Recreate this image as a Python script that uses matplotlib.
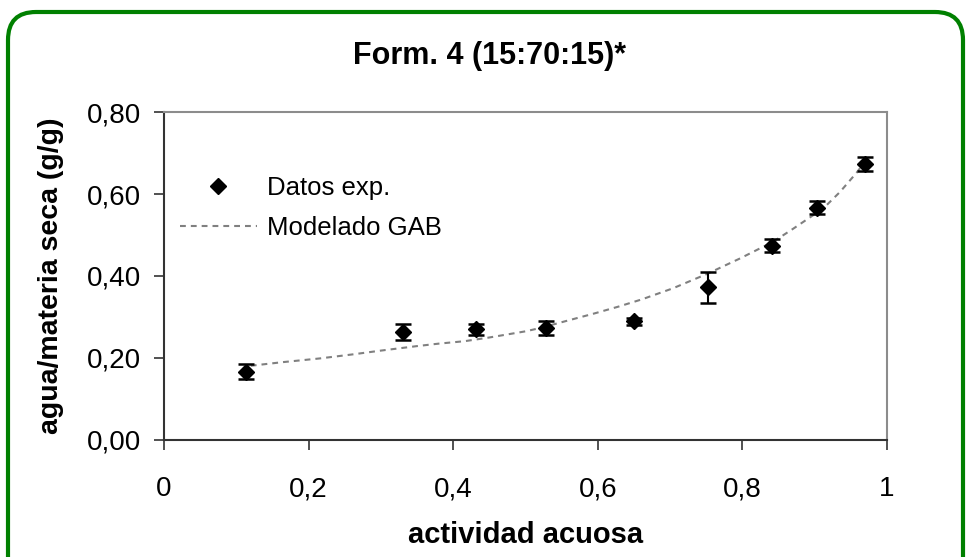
import numpy as np
import matplotlib
matplotlib.use("Agg")
import matplotlib.pyplot as plt
from matplotlib.lines import Line2D
from matplotlib.patches import FancyBboxPatch
from matplotlib.transforms import IdentityTransform
from matplotlib.ticker import FuncFormatter

plt.rcParams['font.family'] = ['Liberation Sans', 'DejaVu Sans']

# experimental points (aw, humedad g/g, desviacion)
aw_exp = [0.114, 0.330, 0.432, 0.529, 0.650, 0.753, 0.841, 0.903, 0.969]
w_exp = [0.167, 0.264, 0.270, 0.274, 0.289, 0.372, 0.474, 0.567, 0.673]
w_err = [0.019, 0.019, 0.013, 0.017, 0.008, 0.037, 0.016, 0.016, 0.017]

# GAB curve
aw_gab = [0.120, 0.165, 0.216, 0.262, 0.300, 0.350, 0.380, 0.416, 0.450,
          0.500, 0.520, 0.560, 0.594, 0.628, 0.661, 0.704, 0.751, 0.797,
          0.843, 0.870, 0.912, 0.935, 0.958, 0.968]
w_gab = [0.181, 0.190, 0.199, 0.209, 0.218, 0.229, 0.235, 0.241, 0.250,
         0.265, 0.273, 0.292, 0.308, 0.325, 0.343, 0.370, 0.405, 0.443,
         0.484, 0.515, 0.565, 0.605, 0.652, 0.675]

fig = plt.figure(figsize=(9.68, 5.57), dpi=100)
ax = fig.add_axes([0.1694, 0.2101, 0.7469, 0.5888])

ax.plot(aw_gab, w_gab, color='#808080', lw=1.5, ls=(0, (2.8, 2.4)), zorder=2)
ax.errorbar(aw_exp, w_exp, yerr=w_err, fmt='D', color='black', ms=8,
            ecolor='black', elinewidth=1.5, capsize=5.5, capthick=1.8, zorder=3)

ax.set_xlim(0, 1)
ax.set_ylim(0, 0.8)
ax.set_xticks([0, 0.2, 0.4, 0.6, 0.8, 1])
ax.set_yticks([0, 0.2, 0.4, 0.6, 0.8])
ax.xaxis.set_major_formatter(FuncFormatter(lambda v, p: ('%g' % v).replace('.', ',')))
ax.yaxis.set_major_formatter(FuncFormatter(lambda v, p: ('%.2f' % v).replace('.', ',')))
ax.tick_params(axis='both', direction='out', length=7.2, width=1.2,
               colors='#333333', labelsize=20, labelcolor='black')
ax.tick_params(axis='x', pad=19)
ax.tick_params(axis='y', pad=9.5)

for side in ['left', 'bottom']:
    ax.spines[side].set_color('#333333')
    ax.spines[side].set_linewidth(1.5)
for side in ['top', 'right']:
    ax.spines[side].set_color('#8c8c8c')
    ax.spines[side].set_linewidth(1.5)

ax.set_xlabel('actividad acuosa', fontsize=21, fontweight='bold')
ax.set_ylabel('agua/materia seca (g/g)', fontsize=20.5, fontweight='bold')
ax.xaxis.set_label_coords(0.5, -0.247)
ax.yaxis.set_label_coords(-0.138, 0.5)

handles = [Line2D([], [], ls='none', marker='D', color='black', ms=8),
           Line2D([], [], color='#808080', lw=1.5, ls=(0, (2.8, 2.4)))]
ax.legend(handles, ['Datos exp.', 'Modelado GAB'], loc='upper left',
          bbox_to_anchor=(0.022, 0.805), frameon=False, fontsize=18.5,
          borderpad=0, borderaxespad=0, handlelength=3.0, handletextpad=0.4,
          labelspacing=0.64)

fig.text(0.506, 0.899, 'Form. 4 (15:70:15)*', ha='center', va='center',
         fontsize=22, fontweight='bold')

border = FancyBboxPatch((8, -40), 955, 585, boxstyle='round,pad=0,rounding_size=28',
                        transform=IdentityTransform(), fill=False,
                        edgecolor='#008000', linewidth=3)
fig.patches.append(border)

fig.savefig('out.png', dpi=100)
